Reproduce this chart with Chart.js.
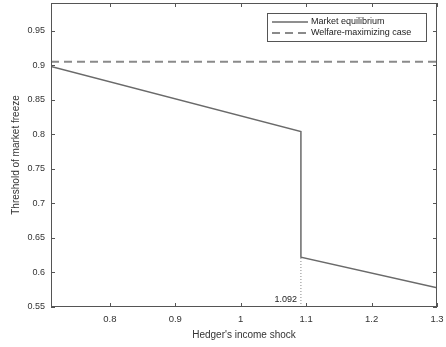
<!DOCTYPE html>
<html>
<head>
<meta charset="utf-8">
<script src="https://cdn.jsdelivr.net/npm/chart.js@4.4.1/dist/chart.umd.min.js"></script>
<style>
  html, body { margin: 0; padding: 0; background: #fff; }
  #wrap { width: 446px; height: 347px; }
</style>
</head>
<body>
<div id="wrap"><canvas id="chart" width="446" height="347"></canvas></div>
<script>
// data
const equilibriumX = [0.71, 1.092, 1.092, 1.3];
const equilibriumY = [0.898, 0.804, 0.622, 0.578];
const welfareX = [0.71, 1.3];
const welfareY = [0.905, 0.905];
const markerX = [1.092, 1.092];
const markerY = [0.55, 0.622];
const markerLabel = "1.092";
const xTicks = [0.8, 0.9, 1, 1.1, 1.2, 1.3];
const yTicks = [0.55, 0.6, 0.65, 0.7, 0.75, 0.8, 0.85, 0.9, 0.95];

const FONT = "'Liberation Sans', Arial, sans-serif";
const AXIS = "#555";

function toPoints(xs, ys) {
    return xs.map(function (x, i) { return { x: x, y: ys[i] }; });
}

// box, inward ticks, legend, marker label
const decorPlugin = {
    id: "decor",
    afterDraw: function (chart) {
        const ctx = chart.ctx;
        const a = chart.chartArea;
        const xs = chart.scales.x;
        const ys = chart.scales.y;
        ctx.save();
        ctx.strokeStyle = AXIS;
        ctx.lineWidth = 1;
        ctx.strokeRect(a.left + 0.5, a.top + 0.5, a.right - a.left - 1, a.bottom - a.top - 1);
        ctx.beginPath();
        xTicks.forEach(function (v) {
            const px = Math.round(xs.getPixelForValue(v)) + 0.5;
            ctx.moveTo(px, a.bottom); ctx.lineTo(px, a.bottom - 4);
            ctx.moveTo(px, a.top); ctx.lineTo(px, a.top + 4);
        });
        yTicks.forEach(function (v) {
            const py = Math.round(ys.getPixelForValue(v)) + 0.5;
            ctx.moveTo(a.left, py); ctx.lineTo(a.left + 4, py);
            ctx.moveTo(a.right, py); ctx.lineTo(a.right - 4, py);
        });
        ctx.stroke();

        // marker label
        ctx.fillStyle = "#222";
        ctx.font = "9px " + FONT;
        ctx.textAlign = "right";
        ctx.textBaseline = "bottom";
        ctx.fillText(markerLabel, xs.getPixelForValue(markerX[0]) - 4, a.bottom - 3);

        // legend
        const lx = 267, ly = 13, lw = 159, lh = 28;
        ctx.fillStyle = "#fff";
        ctx.fillRect(lx, ly, lw, lh);
        ctx.strokeStyle = AXIS;
        ctx.strokeRect(lx + 0.5, ly + 0.5, lw, lh);
        ctx.textAlign = "left";
        ctx.textBaseline = "middle";
        chart.data.datasets.slice(0, 2).forEach(function (ds, i) {
            const y = ly + 9 + i * 11;
            ctx.beginPath();
            ctx.strokeStyle = ds.borderColor;
            ctx.lineWidth = ds.borderWidth;
            ctx.setLineDash(ds.borderDash || []);
            ctx.moveTo(lx + 5, y); ctx.lineTo(lx + 41, y);
            ctx.stroke();
            ctx.setLineDash([]);
            ctx.fillStyle = "#222";
            ctx.fillText(ds.label, lx + 44, y);
        });
        ctx.restore();
    }
};

new Chart(document.getElementById("chart").getContext("2d"), {
    type: "scatter",
    data: {
        datasets: [
            {
                label: "Market equilibrium",
                data: toPoints(equilibriumX, equilibriumY),
                showLine: true,
                borderColor: "#6a6a6a",
                borderWidth: 1.5,
                pointRadius: 0,
                tension: 0,
            },
            {
                label: "Welfare-maximizing case",
                data: toPoints(welfareX, welfareY),
                showLine: true,
                borderColor: "#8a8a8a",
                borderWidth: 2,
                borderDash: [8, 5],
                pointRadius: 0,
            },
            {
                label: "",
                data: toPoints(markerX, markerY),
                showLine: true,
                borderColor: "#888",
                borderWidth: 1,
                borderDash: [1, 2],
                pointRadius: 0,
            },
        ],
    },
    options: {
        responsive: false,
        animation: false,
        layout: { padding: { top: 3, right: 9, left: 0, bottom: 0 } },
        plugins: {
            legend: { display: false },
            tooltip: { enabled: false },
        },
        scales: {
            x: {
                type: "linear",
                min: 0.71,
                max: 1.3,
                afterBuildTicks: function (scale) {
                    scale.ticks = xTicks.map(function (v) { return { value: v }; });
                },
                afterFit: function (scale) {
                    scale.height = 40;
                    scale.paddingLeft = 0;
                    scale.paddingRight = 0;
                },
                ticks: {
                    color: "#333",
                    font: { family: FONT, size: 9.5 },
                    padding: 7,
                    maxRotation: 0,
                    autoSkip: false,
                    callback: function (v) { return String(v); },
                },
                grid: { display: false, drawTicks: false },
                border: { display: false },
                title: {
                    display: true,
                    text: "Hedger's income shock",
                    color: "#333",
                    font: { family: FONT, size: 10 },
                    padding: { top: 0, bottom: 6 },
                },
            },
            y: {
                min: 0.55,
                max: 0.99,
                afterBuildTicks: function (scale) {
                    scale.ticks = yTicks.map(function (v) { return { value: v }; });
                },
                afterFit: function (scale) {
                    scale.width = 51;
                    scale.paddingTop = 0;
                    scale.paddingBottom = 0;
                },
                ticks: {
                    color: "#333",
                    font: { family: FONT, size: 9 },
                    padding: 6,
                    autoSkip: false,
                    callback: function (v) { return String(v); },
                },
                grid: { display: false, drawTicks: false },
                border: { display: false },
                title: {
                    display: true,
                    text: "Threshold of market freeze",
                    color: "#333",
                    font: { family: FONT, size: 10 },
                    padding: { top: 10, bottom: 0 },
                },
            },
        },
    },
    plugins: [decorPlugin],
});
</script>
</body>
</html>
